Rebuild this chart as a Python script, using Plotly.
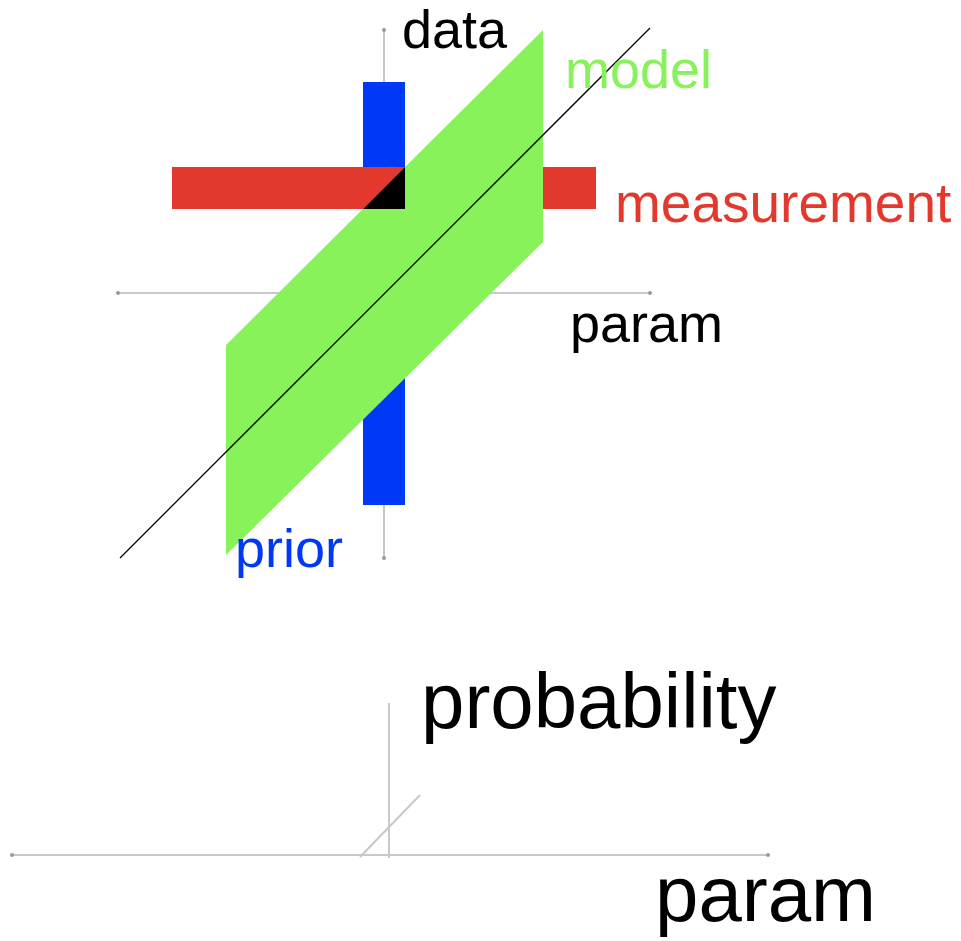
import plotly.graph_objects as go

# pixel-space diagram (x right, y down)
blue_x = [363, 405, 405, 363]
blue_y = [82, 82, 505, 505]
red_x = [172, 596, 596, 172]
red_y = [167, 167, 209, 209]
green_x = [226, 543, 543, 226]
green_y = [345, 30, 242, 555]
overlap_x = [363, 405, 405]
overlap_y = [209, 209, 167]
fit_x = [120, 650]
fit_y = [558, 28]

top_axis_v = ([384, 384], [558, 30])
top_axis_h = ([118, 650], [293, 293])
low_axis_v = ([389, 389], [858, 703])
low_axis_h = ([12, 768], [855, 855])
low_diag = ([360, 420], [857, 795])

labels = ["data", "model", "measurement", "param", "prior", "probability", "param"]
label_x = [402, 565, 615, 570, 235, 421, 655]
label_y = [34, 74, 208, 328, 553, 708, 901]
label_size = [54, 54, 55, 54, 54, 78, 78]
label_color = ["black", "#87F25A", "#E2392C", "black", "#0039F5", "black", "black"]

GREY = "#c8c8c8"

fig = go.Figure()

def axis_line(xy, arrows):
    fig.add_trace(go.Scatter(x=xy[0], y=xy[1], mode="lines",
                             line=dict(color=GREY, width=2), hoverinfo="skip"))
    if arrows:
        fig.add_trace(go.Scatter(x=xy[0], y=xy[1], mode="markers",
                                 marker=dict(symbol="circle", size=4, color="#999999"),
                                 hoverinfo="skip"))

axis_line(top_axis_v, True)
axis_line(top_axis_h, True)
axis_line(low_axis_v, False)
axis_line(low_axis_h, True)
axis_line(low_diag, False)

def patch(xs, ys, color):
    fig.add_trace(go.Scatter(x=xs, y=ys, mode="lines", fill="toself",
                             fillcolor=color, line=dict(width=0, color=color),
                             hoverinfo="skip"))

patch(blue_x, blue_y, "#0039F5")
patch(red_x, red_y, "#E2392C")
patch(green_x, green_y, "#87F25A")
patch(overlap_x, overlap_y, "black")

fig.add_trace(go.Scatter(x=fit_x, y=fit_y, mode="lines",
                         line=dict(color="black", width=1.3), hoverinfo="skip"))

fig.add_trace(go.Scatter(x=label_x, y=label_y, text=labels, mode="text",
                         textposition="middle right", cliponaxis=False,
                         textfont=dict(size=label_size, color=label_color,
                                       family="Liberation Sans, Arial"),
                         hoverinfo="skip"))

fig.update_xaxes(range=[0, 961], visible=False)
fig.update_yaxes(range=[941, 0], visible=False)
fig.update_layout(width=961, height=941, margin=dict(l=0, r=0, t=0, b=0),
                  showlegend=False, plot_bgcolor="white", paper_bgcolor="white")

# drop the default 8px page margin so the figure fills the window
fig.write_html("out.html", config={"displayModeBar": False},
               post_script="document.body.style.margin='0';")
